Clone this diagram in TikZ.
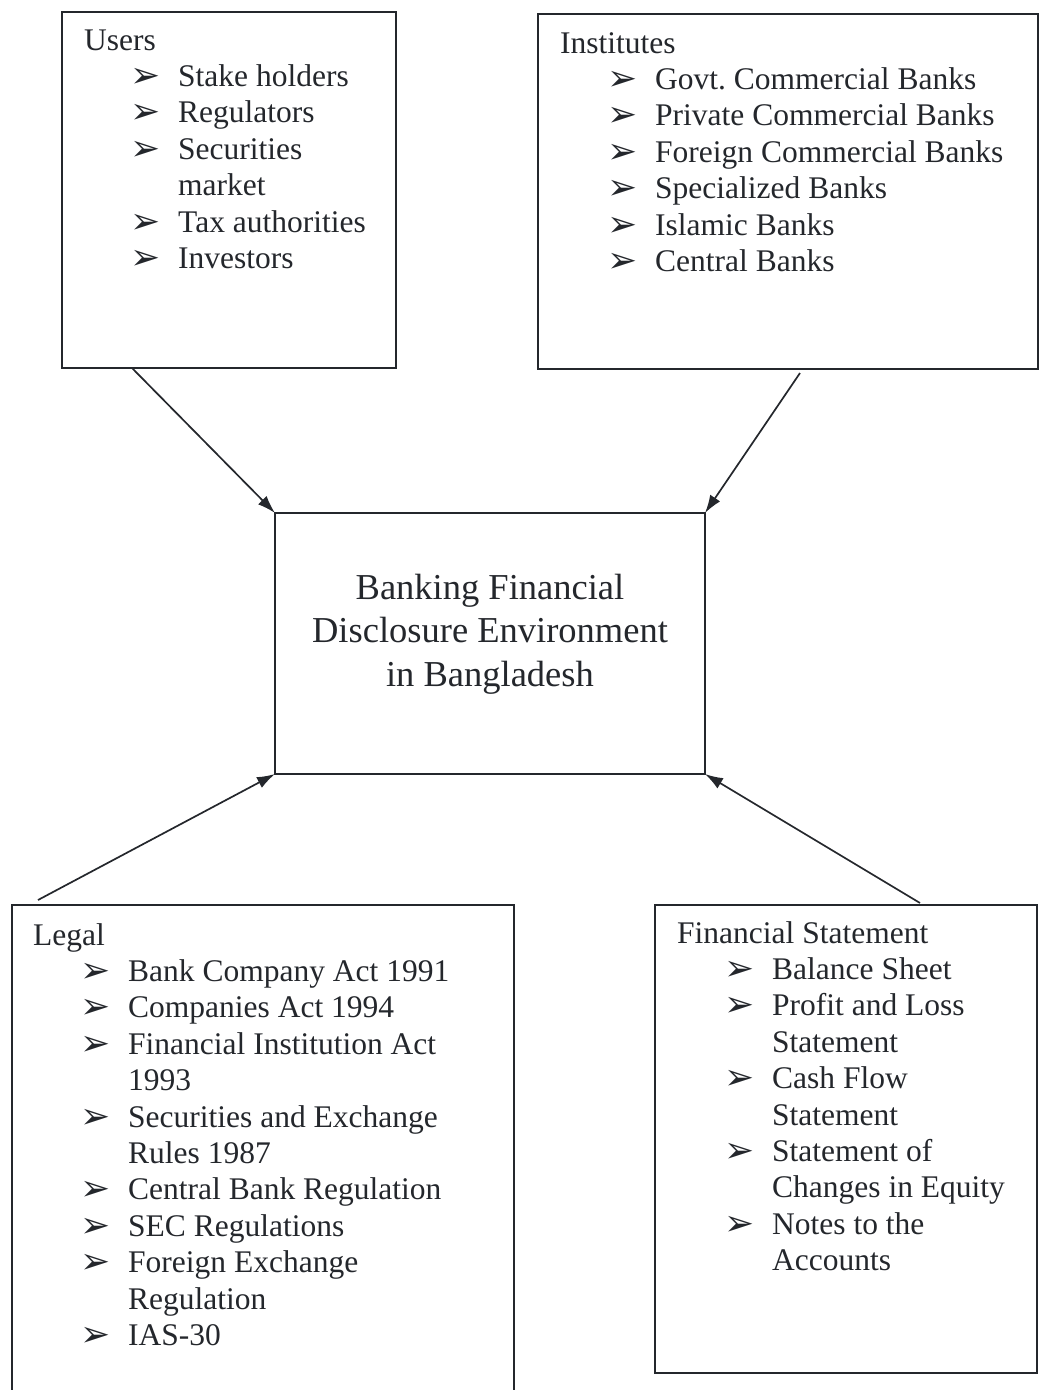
\documentclass[tikz,border=0pt]{standalone}
\usepackage{fontspec}
\setmainfont{Liberation Serif}
\newfontfamily\dingfont{DejaVu Sans}
\usepackage{tikz}
\usetikzlibrary{positioning}
\usetikzlibrary{arrows.meta}
\definecolor{ink}{RGB}{36,39,44}
\newcommand{\bul}{\hspace*{-3pt}{\dingfont\fontsize{36}{36}\selectfont\raisebox{-1pt}{➢}}}
\frenchspacing

\begin{document}
\begin{tikzpicture}
[
x=1pt, y=-1pt,
box/.style={rectangle, draw=ink, line width=2pt, outer sep=0pt, inner sep=0pt, anchor=north west},
list/.style={ink, inner sep=0pt, anchor=base west, font=\fontsize{31.5}{36.4}\selectfont},
title/.style={ink, inner sep=0pt, align=center, font=\fontsize{36.5}{43.5}\selectfont},
link/.style={ink, line width=1.7pt, -{Latex[length=18pt,width=12pt]}},
]
\useasboundingbox (0,0) rectangle (1040,1390);

% the four frames and the one in the middle
\node (users)  [box, minimum width=334pt, minimum height=356pt] at (62,12)   {};
\node (inst)   [box, minimum width=500pt, minimum height=355pt] at (538,14)  {};
\node (centre) [box, minimum width=430pt, minimum height=261pt] at (275,513) {};
\node (legal)  [box, minimum width=502pt, minimum height=492pt] at (12,905)  {};
\node (fin)    [box, minimum width=382pt, minimum height=468pt] at (655,905) {};

\node (userslist) [list] at (84,50) {\begin{tabular}[t]{@{\hspace{49pt}}p{45pt}@{}l@{}}
\multicolumn{2}{@{}l@{}}{Users}\\
\bul & Stake holders\\
\bul & Regulators\\
\bul & Securities\\
     & market\\
\bul & Tax authorities\\
\bul & Investors
\end{tabular}};

\node (instlist) [list] at (560,53) {\begin{tabular}[t]{@{\hspace{50pt}}p{45pt}@{}l@{}}
\multicolumn{2}{@{}l@{}}{Institutes}\\
\bul & Govt. Commercial Banks\\
\bul & Private Commercial Banks\\
\bul & Foreign Commercial Banks\\
\bul & Specialized Banks\\
\bul & Islamic Banks\\
\bul & Central Banks
\end{tabular}};

\node (centretext) [title] at (490,634) {Banking Financial\\Disclosure Environment\\in Bangladesh};

\node (legallist) [list] at (33,945) {\begin{tabular}[t]{@{\hspace{50pt}}p{45pt}@{}l@{}}
\multicolumn{2}{@{}l@{}}{Legal}\\
\bul & Bank Company Act 1991\\
\bul & Companies Act 1994\\
\bul & Financial Institution Act\\
     & 1993\\
\bul & Securities and Exchange\\
     & Rules 1987\\
\bul & Central Bank Regulation\\
\bul & SEC Regulations\\
\bul & Foreign Exchange\\
     & Regulation\\
\bul & IAS-30
\end{tabular}};

\node (finlist) [list] at (677,943) {\begin{tabular}[t]{@{\hspace{50pt}}p{45pt}@{}l@{}}
\multicolumn{2}{@{}l@{}}{Financial Statement}\\
\bul & Balance Sheet\\
\bul & Profit and Loss\\
     & Statement\\
\bul & Cash Flow\\
     & Statement\\
\bul & Statement of\\
     & Changes in Equity\\
\bul & Notes to the\\
     & Accounts
\end{tabular}};

% arrows into the corners of the middle frame
\draw [link] ([xshift=70pt]users.south west) -- (centre.north west);
\draw [link] ([xshift=262pt,yshift=-4pt]inst.south west) -- (centre.north east);
\draw [link] ([xshift=26pt,yshift=5pt]legal.north west) -- (centre.south west);
\draw [link] ([xshift=265pt,yshift=2pt]fin.north west) -- (centre.south east);
\end{tikzpicture}
\end{document}
